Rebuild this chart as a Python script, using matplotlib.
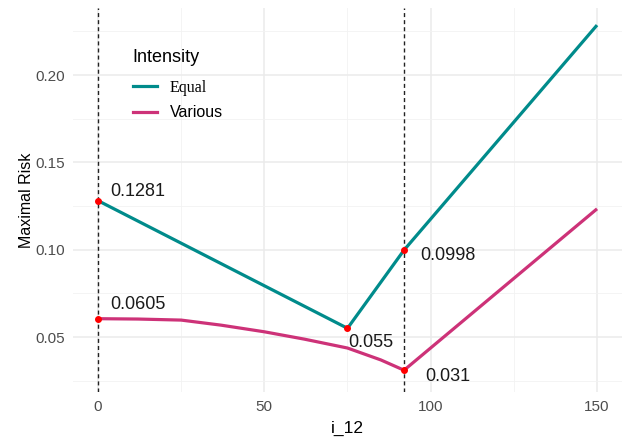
import numpy as np
import matplotlib
matplotlib.use("Agg")
import matplotlib.pyplot as plt
from matplotlib.lines import Line2D
from matplotlib.ticker import MultipleLocator

plt.rcParams.update({'font.family': ['Liberation Sans', 'DejaVu Sans']})

# data
equal_x = [0, 75, 92, 150]
equal_y = [0.1281, 0.055, 0.0998, 0.2286]
various_x = [0, 12, 25, 37, 50, 62, 75, 85, 92, 150]
various_y = [0.0605, 0.0603, 0.0597, 0.0568, 0.0530, 0.0488, 0.0437, 0.0369, 0.031, 0.1234]
vlines = [0, 92]
mark_x = [0, 0, 75, 92, 92]
mark_y = [0.1281, 0.0605, 0.055, 0.0998, 0.031]
mark_lab = ['0.1281', '0.0605', '0.055', '0.0998', '0.031']
# label offsets in points (dx, dy)
mark_off = [(9, 6.5), (9, 10), (0.5, -10), (11.5, -3.8), (15, -4.3)]

TEAL = '#008B8B'
PINK = '#CD3278'
GREY = '#4D4D4D'

fig = plt.figure(figsize=(6.31, 4.4), dpi=100)
ax = fig.add_axes([0.1157, 0.109, 0.87, 0.8736])

ax.plot(equal_x, equal_y, color=TEAL, linewidth=2.3, solid_capstyle='butt', zorder=3)
ax.plot(various_x, various_y, color=PINK, linewidth=2.3, solid_capstyle='butt', zorder=3)
for v in vlines:
    ax.axvline(v, color='#222222', linestyle=(0, (2.9, 2.2)), linewidth=1.0, zorder=2)
ax.scatter(mark_x, mark_y, color='red', s=16, zorder=4)
for x, y, t, (dx, dy) in zip(mark_x, mark_y, mark_lab, mark_off):
    ax.annotate(t, xy=(x, y), xytext=(dx, dy), textcoords='offset points',
                ha='left', va='center', fontsize=13, color='#1a1a1a')

ax.set_xlim(-7.5, 157.5)
ax.set_ylim(0.0185, 0.2386)
ax.xaxis.set_major_locator(MultipleLocator(50))
ax.xaxis.set_minor_locator(MultipleLocator(25))
ax.yaxis.set_major_locator(MultipleLocator(0.05))
ax.yaxis.set_minor_locator(MultipleLocator(0.025))
ax.set_yticks([0.05, 0.10, 0.15, 0.20])
ax.set_yticklabels(['0.05', '0.10', '0.15', '0.20'])
ax.grid(which='major', color='#EBEBEB', linewidth=1.1)
ax.grid(which='minor', color='#F2F2F2', linewidth=0.6)
ax.set_axisbelow(True)
for s in ax.spines.values():
    s.set_visible(False)
ax.tick_params(which='both', length=0, labelsize=11, labelcolor=GREY, pad=6)
ax.set_xlabel('i_12', fontsize=12.5, labelpad=5)
ax.set_ylabel('Maximal Risk', fontsize=11.5, labelpad=1)

handles = [Line2D([], [], color=TEAL, linewidth=2.3),
           Line2D([], [], color=PINK, linewidth=2.3)]
leg = ax.legend(handles, ['Equal', 'Various'], title='Intensity', loc='upper left',
                bbox_to_anchor=(0.109, 0.893), frameon=False, fontsize=11.5,
                title_fontsize=13, handlelength=1.5, handletextpad=0.8,
                labelspacing=0.6, borderpad=0, borderaxespad=0, alignment='left')
leg.get_texts()[0].set_family('Liberation Serif')
leg._legend_box.sep = 10

fig.savefig('out.png', dpi=100)
